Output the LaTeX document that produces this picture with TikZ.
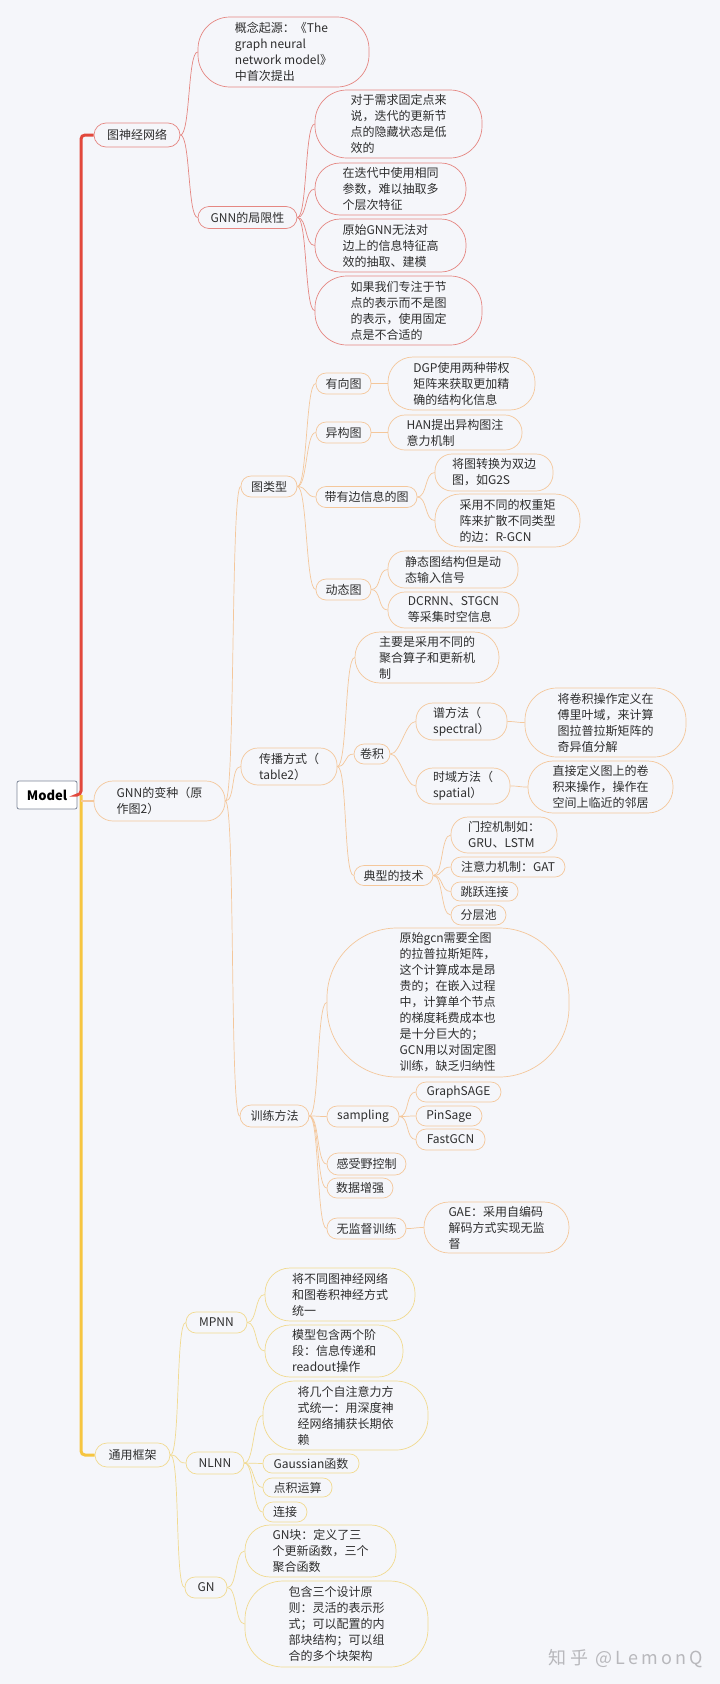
\documentclass[tikz,border=0pt]{standalone}
\usepackage{fontspec}
\setmainfont{Noto Sans CJK SC}
\newfontfamily\wmfont[LetterSpace=18]{Noto Sans CJK SC}
\definecolor{bg}{HTML}{F5F6FA}
\definecolor{ink}{HTML}{2E2E2E}
\definecolor{redtr}{HTML}{E2483C}
\definecolor{redbd}{HTML}{E58782}
\definecolor{orbd}{HTML}{F4C79B}
\definecolor{yetr}{HTML}{F6C540}
\definecolor{yebd}{HTML}{F1DA90}
\definecolor{modbd}{HTML}{7D8798}
\definecolor{wm}{HTML}{B8B8BC}

\begin{document}
\begin{tikzpicture}[x=1pt, y=-1pt,
    txt/.style={text=ink, font=\fontsize{12}{16}\selectfont},
    mm/.style={draw, fill=bg, align=left, inner sep=1pt, line width=0.7pt, txt},
    sz/.style n args={3}{minimum width=#1pt, minimum height=#2pt, rounded corners=#3pt},
    rn/.style={mm, draw=redbd},
    on/.style={mm, draw=orbd},
    yn/.style={mm, draw=yebd},
    curvy/.style={to path={.. controls +(10pt,0pt) and +(-10pt,0pt) .. (\tikztotarget)}},
    rl/.style={draw=redbd, line width=0.7pt},
    ol/.style={draw=orbd, line width=0.7pt},
    yl/.style={draw=yebd, line width=0.7pt},
    trunk/.style={line width=3pt, rounded corners=4pt}]
    \fill[bg] (0,0) rectangle (720,1684);
    \useasboundingbox (0,0) rectangle (720,1684);

    % root
    \node[draw=modbd, fill=white, line width=0.8pt, rounded corners=2pt, minimum width=60pt, minimum height=28pt,
        font=\fontsize{13}{16}\selectfont\bfseries, text=black] (model) at (47,795) {Model};
    \coordinate (hub) at (81,795);

    % 图神经网络
    \node[rn, sz={86}{24}{12}] (nn) at (137,135) {图神经网络};
    \node[rn, sz={171}{70}{32}] (origin) at (283.5,52) {概念起源：《The\\graph neural\\network model》\\中首次提出};
    \node[rn, sz={99}{22}{11}] (lim) at (247.5,217.5) {GNN的局限性};
    \node[rn, sz={167}{68}{32}] (lim1) at (398.5,124) {对于需求固定点来\\说，迭代的更新节\\点的隐藏状态是低\\效的};
    \node[rn, sz={151}{52}{25}] (lim2) at (390.5,189) {在迭代中使用相同\\参数，难以抽取多\\个层次特征};
    \node[rn, sz={151}{53}{25}] (lim3) at (390.5,245.5) {原始GNN无法对\\边上的信息特征高\\效的抽取、建模};
    \node[rn, sz={167}{69}{32}] (lim4) at (398.5,310.5) {如果我们专注于节\\点的表示而不是图\\的表示，使用固定\\点是不合适的};

    % GNN的变种
    \node[on, sz={131}{40}{19}] (var) at (159.5,801) {GNN的变种（原\\作图2）};
    \node[on, sz={56}{21}{10}] (gtype) at (269,486.5) {图类型};
    \node[on, sz={55}{21}{10}] (dir) at (343.5,383.5) {有向图};
    \node[on, sz={147}{53}{25}] (dgp) at (461.5,383.5) {DGP使用两种带权\\矩阵来获取更加精\\确的结构化信息};
    \node[on, sz={55}{21}{10}] (het) at (343.5,432.5) {异构图};
    \node[on, sz={134}{35}{17}] (han) at (455,432.5) {HAN提出异构图注\\意力机制};
    \node[on, sz={101}{21}{10}] (edge) at (366.5,497) {带有边信息的图};
    \node[on, sz={118}{37}{17}] (g2s) at (494,472.5) {将图转换为双边\\图，如G2S};
    \node[on, sz={145}{53}{25}] (rgcn) at (507.5,520.5) {采用不同的权重矩\\阵来扩散不同类型\\的边：R-GCN};
    \node[on, sz={55}{21}{10}] (dyn) at (343.5,589.5) {动态图};
    \node[on, sz={130}{37}{17}] (stat) at (453,569.5) {静态图结构但是动\\态输入信号};
    \node[on, sz={131}{36}{17}] (dcrnn) at (453.5,610) {DCRNN、STGCN\\等采集时空信息};

    \node[on, sz={96}{37}{17}] (prop) at (289,766.5) {传播方式（\\table2）};
    \node[on, sz={144}{51}{25}] (agg) at (427,657.5) {主要是采用不同的\\聚合算子和更新机\\制};
    \node[on, sz={36}{20}{10}] (conv) at (372,754) {卷积};
    \node[on, sz={91}{37}{17}] (spec) at (461.5,721.5) {谱方法（\\spectral）};
    \node[on, sz={161}{69}{32}] (specd) at (605.5,722.5) {将卷积操作定义在\\傅里叶域，来计算\\图拉普拉斯矩阵的\\奇异值分解};
    \node[on, sz={94}{36}{17}] (spat) at (463,786) {时域方法（\\spatial）};
    \node[on, sz={145}{52}{25}] (spatd) at (600.5,787) {直接定义图上的卷\\积来操作，操作在\\空间上临近的邻居};
    \node[on, sz={79}{20}{10}] (tech) at (393.5,875.5) {典型的技术};
    \node[on, sz={106}{36}{17}] (gate) at (504,835) {门控机制如：\\GRU、LSTM};
    \node[on, sz={114}{20}{10}] (att) at (508,867) {注意力机制：GAT};
    \node[on, sz={67}{19}{9}] (skip) at (484.5,891.5) {跳跃连接};
    \node[on, sz={55}{20}{10}] (pool) at (478.5,915) {分层池};

    \node[on, sz={69}{22}{11}] (train) at (274.5,1116) {训练方法};
    \node[on, sz={242}{149}{70}] (cost) at (448,1002.5) {原始gcn需要全图\\的拉普拉斯矩阵，\\这个计算成本是昂\\贵的；在嵌入过程\\中，计算单个节点\\的梯度耗费成本也\\是十分巨大的；\\GCN用以对固定图\\训练，缺乏归纳性};
    \node[on, sz={72}{21}{10}] (samp) at (363,1116.5) {sampling};
    \node[on, sz={85}{20}{10}] (sage) at (458.5,1092) {GraphSAGE};
    \node[on, sz={66}{20}{10}] (pin) at (449,1116) {PinSage};
    \node[on, sz={69}{21}{10}] (fast) at (450.5,1139.5) {FastGCN};
    \node[on, sz={79}{22}{11}] (rf) at (366.5,1164) {感受野控制};
    \node[on, sz={66}{20}{10}] (aug) at (360,1188) {数据增强};
    \node[on, sz={79}{21}{10}] (unsup) at (366.5,1228.5) {无监督训练};
    \node[on, sz={145}{51}{25}] (gae) at (496.5,1227.5) {GAE：采用自编码\\解码方式实现无监\\督};

    % 通用框架
    \node[yn, sz={75}{24}{12}] (gf) at (132.5,1455) {通用框架};
    \node[yn, sz={61}{21}{10}] (mpnn) at (216.5,1322.5) {MPNN};
    \node[yn, sz={150}{53}{25}] (mp1) at (340,1294.5) {将不同图神经网络\\和图卷积神经方式\\统一};
    \node[yn, sz={138}{52}{25}] (mp2) at (334,1351) {模型包含两个阶\\段：信息传递和\\readout操作};
    \node[yn, sz={58}{22}{11}] (nlnn) at (215,1463) {NLNN};
    \node[yn, sz={165}{69}{32}] (nl1) at (345.5,1415.5) {将几个自注意力方\\式统一：用深度神\\经网络捕获长期依\\赖};
    \node[yn, sz={96}{19}{9}] (gauss) at (311,1463.5) {Gaussian函数};
    \node[yn, sz={69}{19}{9}] (dot) at (297.5,1487.5) {点积运算};
    \node[yn, sz={44}{20}{10}] (cat) at (285,1512) {连接};
    \node[yn, sz={42}{21}{10}] (gn) at (206,1587.5) {GN};
    \node[yn, sz={151}{52}{25}] (gn1) at (320.5,1551) {GN块：定义了三\\个更新函数，三个\\聚合函数};
    \node[yn, sz={183}{86}{38}] (gn2) at (336.5,1624) {包含三个设计原\\则：灵活的表示形\\式；可以配置的内\\部块结构；可以组\\合的多个块架构};

    \node[text=wm, font=\wmfont\fontsize{18}{20}\selectfont] (wmk) at (626,1659) {知乎 @LemonQ};

    % trunks
    \draw[trunk, redtr] (model.east) -- (hub) |- (nn.west);
    \draw[trunk, yetr] (hub) |- (gf.west);
    \draw[ol, line width=1.2pt] (hub |- var.west) -- (var.west);

    % branches
    \foreach \a/\b in {nn/origin, nn/lim, lim/lim1, lim/lim2, lim/lim3, lim/lim4}
        \draw[rl] (\a.east) to[curvy] (\b.west);
    \foreach \a/\b in {var/gtype, var/prop, var/train, gtype/dir, gtype/het, gtype/edge, gtype/dyn,
        dir/dgp, het/han, edge/g2s, edge/rgcn, dyn/stat, dyn/dcrnn,
        prop/agg, prop/conv, prop/tech, conv/spec, conv/spat, spec/specd, spat/spatd,
        tech/gate, tech/att, tech/skip, tech/pool,
        train/cost, train/samp, train/rf, train/aug, train/unsup,
        samp/sage, samp/pin, samp/fast, unsup/gae}
        \draw[ol] (\a.east) to[curvy] (\b.west);
    \foreach \a/\b in {gf/mpnn, gf/nlnn, gf/gn, mpnn/mp1, mpnn/mp2,
        nlnn/nl1, nlnn/gauss, nlnn/dot, nlnn/cat, gn/gn1, gn/gn2}
        \draw[yl] (\a.east) to[curvy] (\b.west);
\end{tikzpicture}
\end{document}
